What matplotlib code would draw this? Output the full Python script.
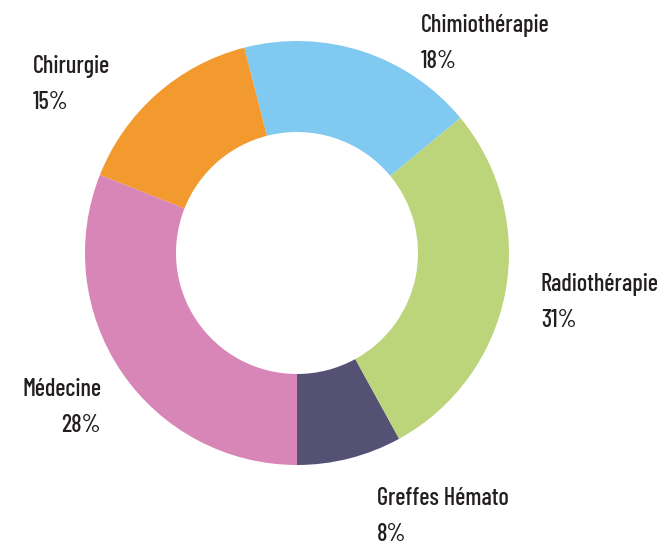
import matplotlib

matplotlib.use("Agg")
import matplotlib.pyplot as plt

# slices, counter-clockwise from the bottom of the ring
categories = ["Greffes Hémato", "Radiothérapie", "Chimiothérapie", "Chirurgie", "Médecine"]
shares = [8, 28, 18, 15, 31]  # arc sizes as drawn
printed = ["8%", "31%", "18%", "15%", "28%"]  # percentages as printed on the chart
colors = ["#545174", "#BDD57A", "#80C9F0", "#F39A2E", "#D886B7"]

W, H = 670, 545
plt.rcParams["font.family"] = ["Barlow Condensed", "DejaVu Sans"]

fig = plt.figure(figsize=(W / 100, H / 100), dpi=100)
ax = fig.add_axes([0, 0, 1, 1])

ax.pie(
    shares,
    colors=colors,
    startangle=-90,
    counterclock=True,
    center=(297, H - 253),
    radius=212,
    wedgeprops=dict(width=91, linewidth=0),
)
ax.set_xlim(0, W)
ax.set_ylim(0, H)
ax.set_aspect("equal")
ax.axis("off")

# label anchors in pixels: x, first baseline, alignment
label_pos = {
    "Greffes Hémato": (377, 505, "left"),
    "Radiothérapie": (541, 291, "left"),
    "Chimiothérapie": (421, 32, "left"),
    "Chirurgie": (33, 73, "left"),
    "Médecine": (101, 396, "right"),
}
for name, pct in zip(categories, printed):
    x, yb, ha = label_pos[name]
    for k, s in enumerate([name, pct]):
        ax.text(x, H - yb - 36 * k, s, ha=ha, va="baseline", fontsize=17.5,
                fontweight=500, color="#231F20")

plt.savefig("out.png", dpi=100)
